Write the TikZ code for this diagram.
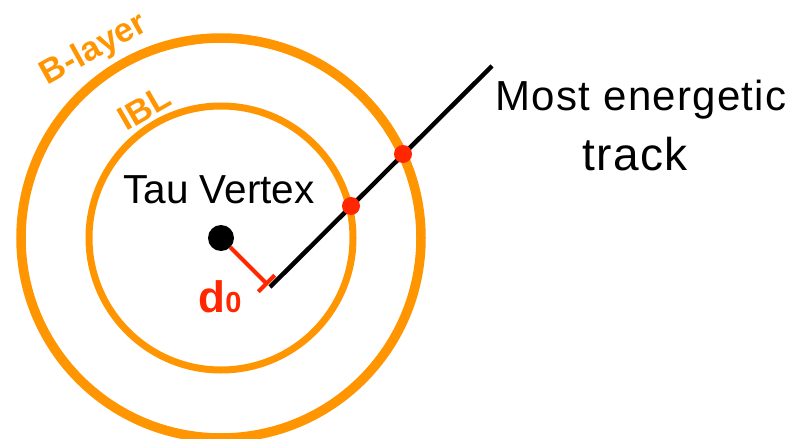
\documentclass[tikz,border=0pt]{standalone}
\usepackage{fontspec}
\setmainfont{Liberation Sans}
\newfontfamily\spacedfont[LetterSpace=3]{Liberation Sans}
\usetikzlibrary{arrows.meta}
\definecolor{layerorange}{RGB}{255,149,0}
\definecolor{hitred}{RGB}{255,38,0}
\begin{document}
\begin{tikzpicture}[
    x=1pt, y=-1pt,
    hit/.style={circle,fill=hitred,inner sep=0pt,minimum size=18pt},
    layerlabel/.style={text=layerorange,font=\bfseries\fontsize{34}{34}\selectfont},
    every node/.style={font=\fontsize{40.5}{60}\selectfont}]
    \useasboundingbox (0,0) rectangle (798,439);
    % detector layers
    \draw[layerorange,line width=9.5pt] (221,238) circle[radius=200pt];
    \draw[layerorange,line width=7pt] (221,238) circle[radius=132pt];
    \node[layerlabel,rotate=29] (blayer label) at (94,50) {B-layer};
    \node[layerlabel,rotate=30] (ibl label) at (144,108) {IBL};
    % vertex and track
    \node[circle,fill=black,inner sep=0pt,minimum size=26pt] (vertex) at (221,238) {};
    \node[anchor=base] (tau label) at (219,203) {Tau Vertex};
    \coordinate (foot) at (270,287);
    \coordinate (track end) at (492,66);
    \draw[line width=4.5pt] (foot) -- (track end);
    \node[hit] (ibl hit) at (351,206) {};
    \node[hit] (blayer hit) at (403,154) {};
    \draw[hitred,line width=4pt,-{Bar[width=23pt,line width=4pt]},shorten >=3pt]
        (vertex) -- (foot);
    \node[anchor=base west,text=hitred,font=\bfseries\fontsize{44}{44}\selectfont]
        (d0 label) at (195,312) {d\fontsize{29}{29}\selectfont 0};
    \node[anchor=base,font=\spacedfont\fontsize{42}{60}\selectfont]
        (track label) at (641,110) {Most energetic};
    \node[anchor=base,font=\spacedfont\fontsize{46}{60}\selectfont]
        (track label b) at (635,170) {track};
\end{tikzpicture}
\end{document}
